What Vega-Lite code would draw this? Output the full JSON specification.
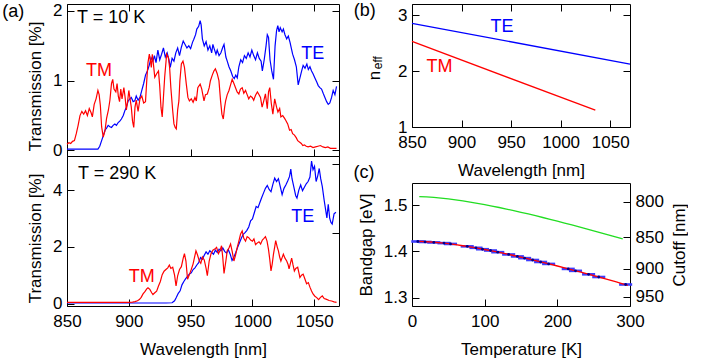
{
"$schema":"https://vega.github.io/schema/vega-lite/v6.json",
"padding":{"left":1,"top":1,"right":0,"bottom":0},
"config":{
 "font":"Liberation Sans",
 "view":{"stroke":"#000000","strokeWidth":1},
 "axis":{"domain":false,"grid":false,"tickColor":"#000000","tickSize":-7,"tickWidth":1,"labelColor":"#000000","titleColor":"#000000","labelFont":"Liberation Sans","titleFont":"Liberation Sans","labelFontSize":17,"titleFontSize":17,"titleFontWeight":"normal","labelFlush":false,"labelOverlap":false,"labelPadding":12,"titlePadding":8},
 "axisX":{"labelPadding":14,"titlePadding":12},
 "axisY":{"labelPadding":12,"titlePadding":8},
 "text":{"font":"Liberation Sans"}
},
"datasets":{
"top":[
{"w":850,"t":0.02,"p":"TE"},{"w":855,"t":0.02,"p":"TE"},{"w":860,"t":0.02,"p":"TE"},{"w":865,"t":0.02,"p":"TE"},{"w":870,"t":0.02,"p":"TE"},{"w":875,"t":0.02,"p":"TE"},{"w":876.5,"t":0.06,"p":"TE"},{"w":878,"t":0.14,"p":"TE"},{"w":879.5,"t":0.22,"p":"TE"},{"w":880.7,"t":0.29,"p":"TE"},{"w":882,"t":0.32,"p":"TE"},{"w":883.3,"t":0.36,"p":"TE"},{"w":884.7,"t":0.34,"p":"TE"},{"w":886,"t":0.33,"p":"TE"},{"w":887.3,"t":0.36,"p":"TE"},{"w":888.7,"t":0.38,"p":"TE"},{"w":890,"t":0.36,"p":"TE"},{"w":891.4,"t":0.40,"p":"TE"},{"w":892.7,"t":0.42,"p":"TE"},{"w":894,"t":0.45,"p":"TE"},{"w":895.5,"t":0.50,"p":"TE"},{"w":896.8,"t":0.57,"p":"TE"},{"w":898,"t":0.62,"p":"TE"},{"w":899.5,"t":0.71,"p":"TE"},{"w":900.8,"t":0.74,"p":"TE"},{"w":902,"t":0.76,"p":"TE"},{"w":903.5,"t":0.70,"p":"TE"},{"w":904.8,"t":0.71,"p":"TE"},{"w":906,"t":0.78,"p":"TE"},{"w":907.5,"t":0.72,"p":"TE"},{"w":909,"t":0.76,"p":"TE"},{"w":910.5,"t":0.86,"p":"TE"},{"w":912,"t":0.96,"p":"TE"},{"w":913.5,"t":1.08,"p":"TE"},{"w":915,"t":1.14,"p":"TE"},{"w":916.5,"t":1.22,"p":"TE"},{"w":918,"t":1.33,"p":"TE"},{"w":919.5,"t":1.28,"p":"TE"},{"w":920.7,"t":1.36,"p":"TE"},{"w":922,"t":1.26,"p":"TE"},{"w":923.5,"t":1.44,"p":"TE"},{"w":925,"t":1.30,"p":"TE"},{"w":926.5,"t":1.38,"p":"TE"},{"w":928,"t":1.47,"p":"TE"},{"w":929.5,"t":1.34,"p":"TE"},{"w":931,"t":1.40,"p":"TE"},{"w":932.5,"t":1.30,"p":"TE"},{"w":933.5,"t":1.19,"p":"TE"},{"w":935,"t":1.32,"p":"TE"},{"w":936.5,"t":1.28,"p":"TE"},{"w":938,"t":1.40,"p":"TE"},{"w":939.5,"t":1.47,"p":"TE"},{"w":941,"t":1.36,"p":"TE"},{"w":942.5,"t":1.48,"p":"TE"},{"w":944,"t":1.57,"p":"TE"},{"w":945.5,"t":1.52,"p":"TE"},{"w":947,"t":1.47,"p":"TE"},{"w":948.5,"t":1.50,"p":"TE"},{"w":950,"t":1.46,"p":"TE"},{"w":951.5,"t":1.55,"p":"TE"},{"w":952.5,"t":1.59,"p":"TE"},{"w":954,"t":1.66,"p":"TE"},{"w":955,"t":1.74,"p":"TE"},{"w":956.5,"t":1.78,"p":"TE"},{"w":957.7,"t":1.86,"p":"TE"},{"w":958.5,"t":1.80,"p":"TE"},{"w":959.5,"t":1.60,"p":"TE"},{"w":961,"t":1.50,"p":"TE"},{"w":962.5,"t":1.56,"p":"TE"},{"w":964,"t":1.44,"p":"TE"},{"w":965.5,"t":1.50,"p":"TE"},{"w":967,"t":1.40,"p":"TE"},{"w":968,"t":1.52,"p":"TE"},{"w":969,"t":1.46,"p":"TE"},{"w":970.5,"t":1.38,"p":"TE"},{"w":971.5,"t":1.44,"p":"TE"},{"w":973,"t":1.36,"p":"TE"},{"w":974.5,"t":1.40,"p":"TE"},{"w":976,"t":1.48,"p":"TE"},{"w":977,"t":1.52,"p":"TE"},{"w":978.5,"t":1.34,"p":"TE"},{"w":979.6,"t":1.28,"p":"TE"},{"w":981,"t":1.20,"p":"TE"},{"w":982.5,"t":1.14,"p":"TE"},{"w":984,"t":1.06,"p":"TE"},{"w":985.3,"t":1.03,"p":"TE"},{"w":986.5,"t":1.08,"p":"TE"},{"w":987.7,"t":1.04,"p":"TE"},{"w":989,"t":1.20,"p":"TE"},{"w":990.5,"t":1.30,"p":"TE"},{"w":992,"t":1.26,"p":"TE"},{"w":993.5,"t":1.36,"p":"TE"},{"w":995,"t":1.32,"p":"TE"},{"w":996.5,"t":1.40,"p":"TE"},{"w":998,"t":1.34,"p":"TE"},{"w":999.5,"t":1.44,"p":"TE"},{"w":1001,"t":1.36,"p":"TE"},{"w":1002.5,"t":1.30,"p":"TE"},{"w":1004,"t":1.40,"p":"TE"},{"w":1005.5,"t":1.32,"p":"TE"},{"w":1007,"t":1.28,"p":"TE"},{"w":1008,"t":1.14,"p":"TE"},{"w":1009.5,"t":1.30,"p":"TE"},{"w":1011,"t":1.50,"p":"TE"},{"w":1012,"t":1.66,"p":"TE"},{"w":1013,"t":1.62,"p":"TE"},{"w":1014.2,"t":1.30,"p":"TE"},{"w":1015.6,"t":1.14,"p":"TE"},{"w":1017,"t":1.02,"p":"TE"},{"w":1018.3,"t":1.50,"p":"TE"},{"w":1019.5,"t":1.72,"p":"TE"},{"w":1020.5,"t":1.79,"p":"TE"},{"w":1021.5,"t":1.70,"p":"TE"},{"w":1022.5,"t":1.76,"p":"TE"},{"w":1024,"t":1.70,"p":"TE"},{"w":1025,"t":1.74,"p":"TE"},{"w":1026.3,"t":1.66,"p":"TE"},{"w":1027.7,"t":1.60,"p":"TE"},{"w":1029,"t":1.64,"p":"TE"},{"w":1030.4,"t":1.55,"p":"TE"},{"w":1031.5,"t":1.46,"p":"TE"},{"w":1032.5,"t":1.38,"p":"TE"},{"w":1034,"t":1.30,"p":"TE"},{"w":1035.5,"t":1.20,"p":"TE"},{"w":1037,"t":0.94,"p":"TE"},{"w":1038.4,"t":1.04,"p":"TE"},{"w":1039.8,"t":1.14,"p":"TE"},{"w":1041,"t":1.22,"p":"TE"},{"w":1042.5,"t":1.18,"p":"TE"},{"w":1044,"t":1.24,"p":"TE"},{"w":1045.2,"t":1.16,"p":"TE"},{"w":1046.5,"t":1.20,"p":"TE"},{"w":1047.8,"t":1.14,"p":"TE"},{"w":1049,"t":1.10,"p":"TE"},{"w":1050.5,"t":1.04,"p":"TE"},{"w":1052,"t":0.98,"p":"TE"},{"w":1053.2,"t":0.93,"p":"TE"},{"w":1054.5,"t":0.90,"p":"TE"},{"w":1055.9,"t":0.88,"p":"TE"},{"w":1057.2,"t":0.82,"p":"TE"},{"w":1058.6,"t":0.76,"p":"TE"},{"w":1060,"t":0.70,"p":"TE"},{"w":1061.3,"t":0.66,"p":"TE"},{"w":1062.6,"t":0.68,"p":"TE"},{"w":1064,"t":0.76,"p":"TE"},{"w":1065.3,"t":0.86,"p":"TE"},{"w":1066.7,"t":0.80,"p":"TE"},{"w":1068,"t":0.92,"p":"TE"},
{"w":850,"t":0.09,"p":"TM"},{"w":851.5,"t":0.11,"p":"TM"},{"w":853,"t":0.10,"p":"TM"},{"w":854.5,"t":0.13,"p":"TM"},{"w":856,"t":0.14,"p":"TM"},{"w":857.5,"t":0.24,"p":"TM"},{"w":859,"t":0.36,"p":"TM"},{"w":860.5,"t":0.50,"p":"TM"},{"w":862,"t":0.56,"p":"TM"},{"w":863.5,"t":0.52,"p":"TM"},{"w":865,"t":0.57,"p":"TM"},{"w":866.5,"t":0.50,"p":"TM"},{"w":868,"t":0.60,"p":"TM"},{"w":869.5,"t":0.54,"p":"TM"},{"w":870.5,"t":0.48,"p":"TM"},{"w":872,"t":0.66,"p":"TM"},{"w":873.5,"t":0.74,"p":"TM"},{"w":875,"t":0.86,"p":"TM"},{"w":876,"t":0.80,"p":"TM"},{"w":877,"t":0.64,"p":"TM"},{"w":878,"t":0.34,"p":"TM"},{"w":879.3,"t":0.19,"p":"TM"},{"w":880.7,"t":0.28,"p":"TM"},{"w":882,"t":0.46,"p":"TM"},{"w":883.5,"t":0.58,"p":"TM"},{"w":884.7,"t":0.72,"p":"TM"},{"w":886,"t":0.96,"p":"TM"},{"w":887,"t":1.02,"p":"TM"},{"w":888,"t":0.88,"p":"TM"},{"w":889.5,"t":0.84,"p":"TM"},{"w":890.5,"t":0.96,"p":"TM"},{"w":891.5,"t":0.78,"p":"TM"},{"w":892.5,"t":0.70,"p":"TM"},{"w":893.5,"t":0.88,"p":"TM"},{"w":894.5,"t":0.74,"p":"TM"},{"w":896,"t":0.90,"p":"TM"},{"w":897,"t":0.76,"p":"TM"},{"w":898,"t":0.58,"p":"TM"},{"w":899,"t":0.70,"p":"TM"},{"w":900,"t":0.86,"p":"TM"},{"w":901,"t":0.74,"p":"TM"},{"w":902,"t":0.62,"p":"TM"},{"w":903,"t":0.42,"p":"TM"},{"w":904,"t":0.33,"p":"TM"},{"w":905,"t":0.62,"p":"TM"},{"w":906,"t":0.72,"p":"TM"},{"w":907.5,"t":0.56,"p":"TM"},{"w":909,"t":0.74,"p":"TM"},{"w":910.5,"t":0.78,"p":"TM"},{"w":912,"t":0.68,"p":"TM"},{"w":913.5,"t":0.70,"p":"TM"},{"w":914.5,"t":1.00,"p":"TM"},{"w":915.5,"t":1.26,"p":"TM"},{"w":916.6,"t":1.38,"p":"TM"},{"w":917.5,"t":1.28,"p":"TM"},{"w":918.2,"t":1.19,"p":"TM"},{"w":919,"t":1.38,"p":"TM"},{"w":920,"t":1.22,"p":"TM"},{"w":921,"t":1.05,"p":"TM"},{"w":922.5,"t":1.10,"p":"TM"},{"w":924,"t":1.14,"p":"TM"},{"w":925,"t":0.92,"p":"TM"},{"w":926,"t":0.62,"p":"TM"},{"w":927,"t":0.48,"p":"TM"},{"w":928,"t":0.76,"p":"TM"},{"w":929,"t":1.05,"p":"TM"},{"w":930.6,"t":1.38,"p":"TM"},{"w":932,"t":1.33,"p":"TM"},{"w":933,"t":1.19,"p":"TM"},{"w":934,"t":0.90,"p":"TM"},{"w":935.5,"t":0.57,"p":"TM"},{"w":936.5,"t":0.38,"p":"TM"},{"w":937.5,"t":0.33,"p":"TM"},{"w":938.4,"t":0.31,"p":"TM"},{"w":939.5,"t":0.58,"p":"TM"},{"w":940.5,"t":0.71,"p":"TM"},{"w":941.3,"t":1.00,"p":"TM"},{"w":942.5,"t":1.24,"p":"TM"},{"w":943.8,"t":1.28,"p":"TM"},{"w":945,"t":1.19,"p":"TM"},{"w":946.5,"t":0.95,"p":"TM"},{"w":947.8,"t":0.76,"p":"TM"},{"w":949,"t":0.71,"p":"TM"},{"w":950.5,"t":0.74,"p":"TM"},{"w":952,"t":0.69,"p":"TM"},{"w":953.5,"t":0.76,"p":"TM"},{"w":954.6,"t":0.71,"p":"TM"},{"w":955.8,"t":0.90,"p":"TM"},{"w":957.7,"t":0.95,"p":"TM"},{"w":959,"t":0.88,"p":"TM"},{"w":960.8,"t":0.71,"p":"TM"},{"w":962,"t":0.80,"p":"TM"},{"w":963.5,"t":0.81,"p":"TM"},{"w":965,"t":0.90,"p":"TM"},{"w":966,"t":1.00,"p":"TM"},{"w":967.5,"t":1.08,"p":"TM"},{"w":968.8,"t":1.14,"p":"TM"},{"w":970,"t":1.17,"p":"TM"},{"w":971.5,"t":1.10,"p":"TM"},{"w":972.9,"t":1.00,"p":"TM"},{"w":974.2,"t":0.71,"p":"TM"},{"w":975.3,"t":0.52,"p":"TM"},{"w":976.4,"t":0.45,"p":"TM"},{"w":977.5,"t":0.62,"p":"TM"},{"w":978.3,"t":0.71,"p":"TM"},{"w":979.6,"t":0.80,"p":"TM"},{"w":981,"t":0.86,"p":"TM"},{"w":982.3,"t":0.94,"p":"TM"},{"w":983.6,"t":1.02,"p":"TM"},{"w":985,"t":0.96,"p":"TM"},{"w":986.3,"t":0.90,"p":"TM"},{"w":987.6,"t":0.84,"p":"TM"},{"w":989,"t":0.81,"p":"TM"},{"w":990.3,"t":0.88,"p":"TM"},{"w":991.7,"t":0.90,"p":"TM"},{"w":993,"t":0.82,"p":"TM"},{"w":994.4,"t":0.86,"p":"TM"},{"w":995.7,"t":0.80,"p":"TM"},{"w":997,"t":0.74,"p":"TM"},{"w":998.4,"t":0.78,"p":"TM"},{"w":999.8,"t":0.76,"p":"TM"},{"w":1001,"t":0.72,"p":"TM"},{"w":1002.5,"t":0.79,"p":"TM"},{"w":1004,"t":0.84,"p":"TM"},{"w":1005,"t":0.81,"p":"TM"},{"w":1006.5,"t":0.76,"p":"TM"},{"w":1007.8,"t":0.62,"p":"TM"},{"w":1009,"t":0.70,"p":"TM"},{"w":1010.5,"t":0.81,"p":"TM"},{"w":1012,"t":0.60,"p":"TM"},{"w":1013,"t":0.84,"p":"TM"},{"w":1014,"t":0.90,"p":"TM"},{"w":1015.2,"t":0.68,"p":"TM"},{"w":1016.5,"t":0.52,"p":"TM"},{"w":1018,"t":0.74,"p":"TM"},{"w":1019.5,"t":0.62,"p":"TM"},{"w":1020.6,"t":0.55,"p":"TM"},{"w":1022,"t":0.60,"p":"TM"},{"w":1023,"t":0.48,"p":"TM"},{"w":1024.5,"t":0.50,"p":"TM"},{"w":1026,"t":0.46,"p":"TM"},{"w":1027,"t":0.43,"p":"TM"},{"w":1028.5,"t":0.38,"p":"TM"},{"w":1030,"t":0.29,"p":"TM"},{"w":1031.3,"t":0.30,"p":"TM"},{"w":1032.5,"t":0.24,"p":"TM"},{"w":1034,"t":0.22,"p":"TM"},{"w":1035.5,"t":0.18,"p":"TM"},{"w":1036.6,"t":0.14,"p":"TM"},{"w":1038,"t":0.12,"p":"TM"},{"w":1039.5,"t":0.10,"p":"TM"},{"w":1040.7,"t":0.07,"p":"TM"},{"w":1042,"t":0.08,"p":"TM"},{"w":1043.5,"t":0.06,"p":"TM"},{"w":1045,"t":0.05,"p":"TM"},{"w":1047,"t":0.06,"p":"TM"},{"w":1049,"t":0.04,"p":"TM"},{"w":1051,"t":0.05,"p":"TM"},{"w":1053,"t":0.06,"p":"TM"},{"w":1055,"t":0.07,"p":"TM"},{"w":1057,"t":0.05,"p":"TM"},{"w":1059,"t":0.04,"p":"TM"},{"w":1061,"t":0.05,"p":"TM"},{"w":1063,"t":0.03,"p":"TM"},{"w":1065,"t":0.03,"p":"TM"},{"w":1068,"t":0.03,"p":"TM"}
],
"bot":[
{"w":850,"t":0.02,"p":"TE"},{"w":870,"t":0.02,"p":"TE"},{"w":890,"t":0.02,"p":"TE"},{"w":910,"t":0.02,"p":"TE"},{"w":930,"t":0.02,"p":"TE"},{"w":935,"t":0.03,"p":"TE"},{"w":937,"t":0.10,"p":"TE"},{"w":938.5,"t":0.22,"p":"TE"},{"w":940,"t":0.36,"p":"TE"},{"w":941.5,"t":0.45,"p":"TE"},{"w":943,"t":0.66,"p":"TE"},{"w":944.5,"t":0.78,"p":"TE"},{"w":946,"t":0.88,"p":"TE"},{"w":947.5,"t":0.96,"p":"TE"},{"w":949,"t":1.04,"p":"TE"},{"w":950.5,"t":1.08,"p":"TE"},{"w":952,"t":1.20,"p":"TE"},{"w":953.5,"t":1.26,"p":"TE"},{"w":955,"t":1.36,"p":"TE"},{"w":956.5,"t":1.44,"p":"TE"},{"w":958,"t":1.62,"p":"TE"},{"w":959.5,"t":1.56,"p":"TE"},{"w":961,"t":1.70,"p":"TE"},{"w":962.5,"t":1.82,"p":"TE"},{"w":964,"t":1.74,"p":"TE"},{"w":965.5,"t":1.86,"p":"TE"},{"w":967,"t":1.80,"p":"TE"},{"w":968.5,"t":1.74,"p":"TE"},{"w":970,"t":1.88,"p":"TE"},{"w":971.5,"t":1.80,"p":"TE"},{"w":973,"t":1.92,"p":"TE"},{"w":974.5,"t":1.86,"p":"TE"},{"w":976,"t":1.96,"p":"TE"},{"w":977.5,"t":1.84,"p":"TE"},{"w":979,"t":1.78,"p":"TE"},{"w":980.5,"t":1.90,"p":"TE"},{"w":982,"t":1.74,"p":"TE"},{"w":983.5,"t":1.52,"p":"TE"},{"w":985,"t":1.64,"p":"TE"},{"w":986.5,"t":1.80,"p":"TE"},{"w":988,"t":1.98,"p":"TE"},{"w":989.5,"t":2.14,"p":"TE"},{"w":991,"t":2.30,"p":"TE"},{"w":992.5,"t":2.44,"p":"TE"},{"w":994,"t":2.50,"p":"TE"},{"w":995.5,"t":2.58,"p":"TE"},{"w":997,"t":2.70,"p":"TE"},{"w":998.5,"t":2.92,"p":"TE"},{"w":1000,"t":2.98,"p":"TE"},{"w":1001.5,"t":3.20,"p":"TE"},{"w":1003,"t":3.42,"p":"TE"},{"w":1004.5,"t":3.38,"p":"TE"},{"w":1006,"t":3.56,"p":"TE"},{"w":1007.5,"t":3.74,"p":"TE"},{"w":1009,"t":3.90,"p":"TE"},{"w":1010.5,"t":4.06,"p":"TE"},{"w":1012,"t":4.16,"p":"TE"},{"w":1013.5,"t":4.02,"p":"TE"},{"w":1015,"t":3.94,"p":"TE"},{"w":1016.5,"t":4.20,"p":"TE"},{"w":1018,"t":4.42,"p":"TE"},{"w":1019.5,"t":4.30,"p":"TE"},{"w":1021,"t":4.40,"p":"TE"},{"w":1022.5,"t":4.12,"p":"TE"},{"w":1024,"t":3.84,"p":"TE"},{"w":1025.5,"t":4.06,"p":"TE"},{"w":1027,"t":4.18,"p":"TE"},{"w":1028.5,"t":4.32,"p":"TE"},{"w":1030,"t":4.48,"p":"TE"},{"w":1031,"t":4.74,"p":"TE"},{"w":1032,"t":4.40,"p":"TE"},{"w":1033.5,"t":4.10,"p":"TE"},{"w":1035,"t":3.80,"p":"TE"},{"w":1036,"t":3.72,"p":"TE"},{"w":1037.5,"t":4.00,"p":"TE"},{"w":1039,"t":4.18,"p":"TE"},{"w":1040.5,"t":3.98,"p":"TE"},{"w":1042,"t":4.10,"p":"TE"},{"w":1043.5,"t":4.22,"p":"TE"},{"w":1045,"t":4.30,"p":"TE"},{"w":1046.5,"t":4.46,"p":"TE"},{"w":1047.8,"t":5.02,"p":"TE"},{"w":1049,"t":4.72,"p":"TE"},{"w":1050.2,"t":4.84,"p":"TE"},{"w":1051.5,"t":4.30,"p":"TE"},{"w":1052.8,"t":4.50,"p":"TE"},{"w":1054,"t":4.76,"p":"TE"},{"w":1055.2,"t":4.40,"p":"TE"},{"w":1056.5,"t":4.12,"p":"TE"},{"w":1058,"t":3.64,"p":"TE"},{"w":1059.2,"t":3.30,"p":"TE"},{"w":1060.2,"t":3.02,"p":"TE"},{"w":1061.3,"t":3.50,"p":"TE"},{"w":1062.5,"t":3.00,"p":"TE"},{"w":1063.5,"t":2.86,"p":"TE"},{"w":1064.5,"t":2.80,"p":"TE"},{"w":1066,"t":3.16,"p":"TE"},{"w":1067.5,"t":3.22,"p":"TE"},
{"w":850,"t":0.04,"p":"TM"},{"w":870,"t":0.04,"p":"TM"},{"w":890,"t":0.04,"p":"TM"},{"w":900,"t":0.04,"p":"TM"},{"w":903,"t":0.05,"p":"TM"},{"w":905,"t":0.07,"p":"TM"},{"w":907,"t":0.10,"p":"TM"},{"w":908.5,"t":0.14,"p":"TM"},{"w":910,"t":0.22,"p":"TM"},{"w":911.5,"t":0.34,"p":"TM"},{"w":913,"t":0.42,"p":"TM"},{"w":914.5,"t":0.52,"p":"TM"},{"w":915.5,"t":0.56,"p":"TM"},{"w":917,"t":0.50,"p":"TM"},{"w":918.5,"t":0.38,"p":"TM"},{"w":919.5,"t":0.32,"p":"TM"},{"w":921,"t":0.38,"p":"TM"},{"w":922.5,"t":0.44,"p":"TM"},{"w":924,"t":0.62,"p":"TM"},{"w":925.5,"t":0.78,"p":"TM"},{"w":927,"t":1.02,"p":"TM"},{"w":928.5,"t":1.14,"p":"TM"},{"w":930,"t":1.20,"p":"TM"},{"w":931.5,"t":1.26,"p":"TM"},{"w":932.8,"t":1.36,"p":"TM"},{"w":934,"t":1.24,"p":"TM"},{"w":935.5,"t":1.28,"p":"TM"},{"w":937,"t":1.00,"p":"TM"},{"w":938.2,"t":0.62,"p":"TM"},{"w":939.5,"t":0.98,"p":"TM"},{"w":941,"t":1.20,"p":"TM"},{"w":942.5,"t":1.30,"p":"TM"},{"w":944,"t":1.60,"p":"TM"},{"w":945,"t":1.76,"p":"TM"},{"w":946.2,"t":1.50,"p":"TM"},{"w":947.5,"t":0.86,"p":"TM"},{"w":949,"t":1.02,"p":"TM"},{"w":950.5,"t":1.20,"p":"TM"},{"w":952,"t":1.40,"p":"TM"},{"w":953,"t":1.60,"p":"TM"},{"w":954.3,"t":1.86,"p":"TM"},{"w":955.5,"t":1.72,"p":"TM"},{"w":957,"t":1.50,"p":"TM"},{"w":958.2,"t":1.42,"p":"TM"},{"w":959.5,"t":1.64,"p":"TM"},{"w":961,"t":1.54,"p":"TM"},{"w":962.5,"t":1.24,"p":"TM"},{"w":963.5,"t":0.98,"p":"TM"},{"w":965,"t":1.50,"p":"TM"},{"w":966.5,"t":1.76,"p":"TM"},{"w":968,"t":1.88,"p":"TM"},{"w":969.5,"t":1.92,"p":"TM"},{"w":971,"t":1.98,"p":"TM"},{"w":972.5,"t":1.76,"p":"TM"},{"w":973.5,"t":1.84,"p":"TM"},{"w":975,"t":2.04,"p":"TM"},{"w":976,"t":1.62,"p":"TM"},{"w":977,"t":1.06,"p":"TM"},{"w":978.5,"t":1.50,"p":"TM"},{"w":979.6,"t":1.86,"p":"TM"},{"w":981,"t":1.96,"p":"TM"},{"w":982.3,"t":2.10,"p":"TM"},{"w":983.6,"t":1.84,"p":"TM"},{"w":985,"t":1.50,"p":"TM"},{"w":986.4,"t":1.72,"p":"TM"},{"w":987.7,"t":1.98,"p":"TM"},{"w":989,"t":2.20,"p":"TM"},{"w":990.4,"t":2.45,"p":"TM"},{"w":991.7,"t":2.56,"p":"TM"},{"w":993,"t":2.30,"p":"TM"},{"w":994.4,"t":2.20,"p":"TM"},{"w":995.7,"t":2.36,"p":"TM"},{"w":997,"t":2.32,"p":"TM"},{"w":998.5,"t":2.24,"p":"TM"},{"w":1000,"t":2.20,"p":"TM"},{"w":1001.2,"t":2.28,"p":"TM"},{"w":1002.5,"t":2.08,"p":"TM"},{"w":1004,"t":2.14,"p":"TM"},{"w":1005.3,"t":2.18,"p":"TM"},{"w":1006.6,"t":2.10,"p":"TM"},{"w":1008,"t":2.24,"p":"TM"},{"w":1009.3,"t":2.30,"p":"TM"},{"w":1010.5,"t":2.36,"p":"TM"},{"w":1011.8,"t":2.20,"p":"TM"},{"w":1013,"t":1.90,"p":"TM"},{"w":1014,"t":1.56,"p":"TM"},{"w":1015,"t":1.15,"p":"TM"},{"w":1016,"t":1.40,"p":"TM"},{"w":1017,"t":1.74,"p":"TM"},{"w":1018,"t":2.00,"p":"TM"},{"w":1018.8,"t":2.22,"p":"TM"},{"w":1020,"t":2.00,"p":"TM"},{"w":1021,"t":1.86,"p":"TM"},{"w":1022,"t":1.64,"p":"TM"},{"w":1023,"t":1.50,"p":"TM"},{"w":1024,"t":1.62,"p":"TM"},{"w":1025,"t":1.74,"p":"TM"},{"w":1026.3,"t":1.60,"p":"TM"},{"w":1027.7,"t":1.50,"p":"TM"},{"w":1028.8,"t":1.38,"p":"TM"},{"w":1029.6,"t":1.22,"p":"TM"},{"w":1030.6,"t":1.40,"p":"TM"},{"w":1031.7,"t":1.60,"p":"TM"},{"w":1032.8,"t":1.36,"p":"TM"},{"w":1033.9,"t":1.15,"p":"TM"},{"w":1035,"t":1.24,"p":"TM"},{"w":1036.6,"t":1.28,"p":"TM"},{"w":1037.5,"t":1.10,"p":"TM"},{"w":1038.4,"t":0.92,"p":"TM"},{"w":1039.7,"t":1.00,"p":"TM"},{"w":1041,"t":1.04,"p":"TM"},{"w":1042.5,"t":0.86,"p":"TM"},{"w":1043.8,"t":0.70,"p":"TM"},{"w":1045.2,"t":0.74,"p":"TM"},{"w":1046.5,"t":0.58,"p":"TM"},{"w":1047.8,"t":0.44,"p":"TM"},{"w":1049,"t":0.34,"p":"TM"},{"w":1050.5,"t":0.26,"p":"TM"},{"w":1052,"t":0.21,"p":"TM"},{"w":1053.5,"t":0.14,"p":"TM"},{"w":1055,"t":0.22,"p":"TM"},{"w":1056.5,"t":0.27,"p":"TM"},{"w":1058,"t":0.18,"p":"TM"},{"w":1060,"t":0.15,"p":"TM"},{"w":1062,"t":0.11,"p":"TM"},{"w":1064,"t":0.09,"p":"TM"},{"w":1066,"t":0.06,"p":"TM"},{"w":1068,"t":0.04,"p":"TM"}
],
"neff":[{"w":850,"n":2.855,"p":"TE"},{"w":1070,"n":2.126,"p":"TE"},{"w":850,"n":2.53,"p":"TM"},{"w":1035,"n":1.30,"p":"TM"}],
"meas":[{"T":8,"E":1.4215,"lo":-1,"hi":17},{"T":18,"E":1.4205,"lo":9,"hi":27},{"T":30,"E":1.4195,"lo":21,"hi":39},{"T":44,"E":1.418,"lo":35,"hi":53},{"T":53,"E":1.4162,"lo":44,"hi":62},{"T":76,"E":1.411,"lo":67,"hi":85},{"T":88,"E":1.4078,"lo":79,"hi":97},{"T":97,"E":1.4048,"lo":88,"hi":106},{"T":108,"E":1.402,"lo":99,"hi":117},{"T":118,"E":1.3984,"lo":109,"hi":127},{"T":133,"E":1.3935,"lo":124,"hi":142},{"T":145,"E":1.3892,"lo":136,"hi":154},{"T":155,"E":1.3855,"lo":146,"hi":164},{"T":166,"E":1.3815,"lo":157,"hi":175},{"T":177,"E":1.3772,"lo":168,"hi":186},{"T":188,"E":1.373,"lo":179,"hi":197},{"T":215,"E":1.3622,"lo":206,"hi":224},{"T":225,"E":1.358,"lo":216,"hi":234},{"T":243,"E":1.3505,"lo":234,"hi":252},{"T":257,"E":1.3447,"lo":248,"hi":266},{"T":294,"E":1.3285,"lo":285,"hi":303}],
"fit":[{"T":10,"E":1.4217},{"T":20,"E":1.421},{"T":30,"E":1.4199},{"T":40,"E":1.4185},{"T":50,"E":1.4167},{"T":60,"E":1.4146},{"T":70,"E":1.4123},{"T":80,"E":1.4098},{"T":90,"E":1.4071},{"T":100,"E":1.4042},{"T":110,"E":1.4012},{"T":120,"E":1.398},{"T":130,"E":1.3947},{"T":140,"E":1.3912},{"T":150,"E":1.3876},{"T":160,"E":1.384},{"T":170,"E":1.3802},{"T":180,"E":1.3764},{"T":190,"E":1.3725},{"T":200,"E":1.3685},{"T":210,"E":1.3644},{"T":220,"E":1.3603},{"T":230,"E":1.3561},{"T":240,"E":1.3519},{"T":250,"E":1.3476},{"T":260,"E":1.3433},{"T":270,"E":1.3389},{"T":280,"E":1.3345},{"T":290,"E":1.33},{"T":297,"E":1.3268}],
"gaas":[{"T":10,"E":1.5187},{"T":20,"E":1.518},{"T":30,"E":1.5169},{"T":40,"E":1.5155},{"T":50,"E":1.5137},{"T":60,"E":1.5116},{"T":70,"E":1.5093},{"T":80,"E":1.5068},{"T":90,"E":1.5041},{"T":100,"E":1.5012},{"T":110,"E":1.4982},{"T":120,"E":1.495},{"T":130,"E":1.4917},{"T":140,"E":1.4882},{"T":150,"E":1.4846},{"T":160,"E":1.481},{"T":170,"E":1.4772},{"T":180,"E":1.4734},{"T":190,"E":1.4695},{"T":200,"E":1.4655},{"T":210,"E":1.4614},{"T":220,"E":1.4573},{"T":230,"E":1.4531},{"T":240,"E":1.4489},{"T":250,"E":1.4446},{"T":260,"E":1.4403},{"T":270,"E":1.4359},{"T":280,"E":1.4315},{"T":290,"E":1.427}]
},
"spacing":12,
"hconcat":[
{"vconcat":[
 {"width":272,"height":152,
  "layer":[
   {"data":{"name":"top"},"mark":{"type":"line","strokeWidth":1.2},
    "encoding":{
     "x":{"field":"w","type":"quantitative","scale":{"domain":[850,1070],"nice":false,"zero":false},"axis":{"values":[850,900,950,1000,1050],"labels":false,"title":null}},
     "y":{"field":"t","type":"quantitative","scale":{"domain":[-0.08,2.1],"nice":false,"zero":false},"axis":{"values":[0,1,2],"title":"Transmission [%]","titleY":82}},
     "color":{"field":"p","type":"nominal","scale":{"domain":["TE","TM"],"range":["#0000ff","#ff0000"]},"legend":null}}},
   {"data":{"values":[{"w":900,"t":1}]},"mark":{"type":"point","opacity":0},
    "encoding":{
     "x":{"field":"w","type":"quantitative","scale":{"domain":[850,1070],"nice":false,"zero":false},"axis":{"orient":"top","values":[850,900,950,1000,1050],"labels":false,"title":null}},
     "y":{"field":"t","type":"quantitative","scale":{"domain":[-0.08,2.1],"nice":false,"zero":false},"axis":{"orient":"right","values":[0,1,2],"labels":false,"title":null}}}},
   {"data":{"values":[{"w":875.8,"t":1.14,"p":"TM"},{"w":1048.8,"t":1.38,"p":"TE"}]},"mark":{"type":"text","fontSize":18,"baseline":"middle"},
    "encoding":{
     "x":{"field":"w","type":"quantitative","scale":{"domain":[850,1070],"nice":false,"zero":false},"axis":null},
     "y":{"field":"t","type":"quantitative","scale":{"domain":[-0.08,2.1],"nice":false,"zero":false},"axis":null},
     "text":{"field":"p"},
     "color":{"field":"p","type":"nominal","scale":{"domain":["TE","TM"],"range":["#0000ff","#ff0000"]},"legend":null}}},
   {"data":{"values":[{"w":797.6,"t":1.99,"s":"(a)"},{"w":858.1,"t":1.9,"s":"T = 10 K"}]},"mark":{"type":"text","fontSize":18,"align":"left","baseline":"middle","color":"#000000"},
    "encoding":{
     "x":{"field":"w","type":"quantitative","scale":{"domain":[850,1070],"nice":false,"zero":false},"axis":null},
     "y":{"field":"t","type":"quantitative","scale":{"domain":[-0.08,2.1],"nice":false,"zero":false},"axis":null},
     "text":{"field":"s"}}}
  ],
  "resolve":{"axis":{"x":"independent","y":"independent"}}
 },
 {"width":272,"height":150,
  "layer":[
   {"data":{"name":"bot"},"mark":{"type":"line","strokeWidth":1.2},
    "encoding":{
     "x":{"field":"w","type":"quantitative","scale":{"domain":[850,1070],"nice":false,"zero":false},"axis":{"values":[850,900,950,1000,1050],"format":"d","title":"Wavelength [nm]"}},
     "y":{"field":"t","type":"quantitative","scale":{"domain":[-0.085,5.2],"nice":false,"zero":false},"axis":{"values":[0,2,4],"title":"Transmission [%]","titleY":82}},
     "color":{"field":"p","type":"nominal","scale":{"domain":["TE","TM"],"range":["#0000ff","#ff0000"]},"legend":null}}},
   {"data":{"values":[{"w":900,"t":1}]},"mark":{"type":"point","opacity":0},
    "encoding":{
     "x":{"field":"w","type":"quantitative","scale":{"domain":[850,1070],"nice":false,"zero":false},"axis":null},
     "y":{"field":"t","type":"quantitative","scale":{"domain":[-0.085,5.2],"nice":false,"zero":false},"axis":{"orient":"right","values":[2.481,4.917],"labels":false,"title":null}}}},
   {"data":{"values":[{"w":1040.7,"t":3.06,"p":"TE"},{"w":910.5,"t":0.94,"p":"TM"}]},"mark":{"type":"text","fontSize":18,"baseline":"middle"},
    "encoding":{
     "x":{"field":"w","type":"quantitative","scale":{"domain":[850,1070],"nice":false,"zero":false},"axis":null},
     "y":{"field":"t","type":"quantitative","scale":{"domain":[-0.085,5.2],"nice":false,"zero":false},"axis":null},
     "text":{"field":"p"},
     "color":{"field":"p","type":"nominal","scale":{"domain":["TE","TM"],"range":["#0000ff","#ff0000"]},"legend":null}}},
   {"data":{"values":[{"w":858.9,"t":4.58,"s":"T = 290 K"}]},"mark":{"type":"text","fontSize":18,"align":"left","baseline":"middle","color":"#000000"},
    "encoding":{
     "x":{"field":"w","type":"quantitative","scale":{"domain":[850,1070],"nice":false,"zero":false},"axis":null},
     "y":{"field":"t","type":"quantitative","scale":{"domain":[-0.085,5.2],"nice":false,"zero":false},"axis":null},
     "text":{"field":"s"}}}
  ],
  "resolve":{"axis":{"x":"independent","y":"independent"}}
 }
],"spacing":0,"bounds":"flush"},
{"vconcat":[
 {"width":218,"height":123,
  "layer":[
   {"data":{"name":"neff"},"mark":{"type":"line","strokeWidth":1.3},
    "encoding":{
     "x":{"field":"w","type":"quantitative","scale":{"domain":[850,1070],"nice":false,"zero":false},"axis":{"values":[850,900,950,1000,1050],"format":"d","title":"Wavelength [nm]"}},
     "y":{"field":"n","type":"quantitative","scale":{"domain":[1,3.2],"nice":false,"zero":false},"axis":{"values":[1,2,3],"title":null}},
     "color":{"field":"p","type":"nominal","scale":{"domain":["TE","TM"],"range":["#0000ff","#ff0000"]},"legend":null}}},
   {"data":{"values":[{"w":900,"n":2}]},"mark":{"type":"point","opacity":0},
    "encoding":{
     "x":{"field":"w","type":"quantitative","scale":{"domain":[850,1070],"nice":false,"zero":false},"axis":{"orient":"top","values":[850,900,950,1000,1050],"labels":false,"title":null}},
     "y":{"field":"n","type":"quantitative","scale":{"domain":[1,3.2],"nice":false,"zero":false},"axis":{"orient":"right","values":[1,2,3],"labels":false,"title":null}}}},
   {"data":{"values":[{"w":940.8,"n":2.79,"p":"TE"},{"w":877.7,"n":2.065,"p":"TM"}]},"mark":{"type":"text","fontSize":18,"baseline":"middle"},
    "encoding":{
     "x":{"field":"w","type":"quantitative","scale":{"domain":[850,1070],"nice":false,"zero":false},"axis":null},
     "y":{"field":"n","type":"quantitative","scale":{"domain":[1,3.2],"nice":false,"zero":false},"axis":null},
     "text":{"field":"p"},
     "color":{"field":"p","type":"nominal","scale":{"domain":["TE","TM"],"range":["#0000ff","#ff0000"]},"legend":null}}},
   {"data":{"values":[{"w":791.3,"n":3.08,"s":"(b)"}]},"mark":{"type":"text","fontSize":18,"align":"left","baseline":"middle","color":"#000000"},
    "encoding":{
     "x":{"field":"w","type":"quantitative","scale":{"domain":[850,1070],"nice":false,"zero":false},"axis":null},
     "y":{"field":"n","type":"quantitative","scale":{"domain":[1,3.2],"nice":false,"zero":false},"axis":null},
     "text":{"field":"s"}}},
   {"data":{"values":[{"w":812.2,"n":1.92,"s":"n"}]},"mark":{"type":"text","fontSize":17,"angle":270,"align":"center","baseline":"middle","color":"#000000"},
    "encoding":{
     "x":{"field":"w","type":"quantitative","scale":{"domain":[850,1070],"nice":false,"zero":false},"axis":null},
     "y":{"field":"n","type":"quantitative","scale":{"domain":[1,3.2],"nice":false,"zero":false},"axis":null},
     "text":{"field":"s"}}},
   {"data":{"values":[{"w":815.5,"n":2.15,"s":"eff"}]},"mark":{"type":"text","fontSize":12,"angle":270,"align":"center","baseline":"middle","color":"#000000"},
    "encoding":{
     "x":{"field":"w","type":"quantitative","scale":{"domain":[850,1070],"nice":false,"zero":false},"axis":null},
     "y":{"field":"n","type":"quantitative","scale":{"domain":[1,3.2],"nice":false,"zero":false},"axis":null},
     "text":{"field":"s"}}}
  ],
  "resolve":{"axis":{"x":"independent","y":"independent"}}
 },
 {"width":218,"height":123,
  "layer":[
   {"layer":[
     {"data":{"name":"meas"},"mark":{"type":"rule","strokeWidth":2.6,"color":"#3c3cff"},
      "encoding":{
       "x":{"field":"lo","type":"quantitative","scale":{"domain":[0,300],"nice":false,"zero":false},"axis":{"values":[0,100,200,300],"title":"Temperature [K]"}},
       "x2":{"field":"hi"},
       "y":{"field":"E","type":"quantitative","scale":{"domain":[1.282,1.548],"nice":false,"zero":false},"axis":{"values":[1.3,1.4,1.5],"title":"Bandgap [eV]"}}}},
     {"data":{"name":"fit"},"mark":{"type":"line","color":"#ff0000","strokeWidth":1.3},
      "encoding":{
       "x":{"field":"T","type":"quantitative","scale":{"domain":[0,300],"nice":false,"zero":false},"axis":{"values":[0,100,200,300],"title":"Temperature [K]"}},
       "y":{"field":"E","type":"quantitative","scale":{"domain":[1.282,1.548],"nice":false,"zero":false},"axis":{"values":[1.3,1.4,1.5],"title":"Bandgap [eV]"}}}},
     {"data":{"name":"meas"},"mark":{"type":"point","filled":true,"size":8,"color":"#00008b","opacity":1},
      "encoding":{
       "x":{"field":"T","type":"quantitative","scale":{"domain":[0,300],"nice":false,"zero":false},"axis":{"values":[0,100,200,300],"title":"Temperature [K]"}},
       "y":{"field":"E","type":"quantitative","scale":{"domain":[1.282,1.548],"nice":false,"zero":false},"axis":{"values":[1.3,1.4,1.5],"title":"Bandgap [eV]"}}}},
     {"data":{"name":"gaas"},"mark":{"type":"line","color":"#22dd22","strokeWidth":1.3},
      "encoding":{
       "x":{"field":"T","type":"quantitative","scale":{"domain":[0,300],"nice":false,"zero":false},"axis":{"values":[0,100,200,300],"title":"Temperature [K]"}},
       "y":{"field":"E","type":"quantitative","scale":{"domain":[1.282,1.548],"nice":false,"zero":false},"axis":{"values":[1.3,1.4,1.5],"title":"Bandgap [eV]"}}}},
     {"data":{"values":[{"T":-80.6,"E":1.57,"s":"(c)"}]},"mark":{"type":"text","fontSize":18,"align":"left","baseline":"middle","color":"#000000"},
      "encoding":{
       "x":{"field":"T","type":"quantitative","scale":{"domain":[0,300],"nice":false,"zero":false},"axis":{"values":[0,100,200,300],"title":"Temperature [K]"}},
       "y":{"field":"E","type":"quantitative","scale":{"domain":[1.282,1.548],"nice":false,"zero":false},"axis":{"values":[1.3,1.4,1.5],"title":"Bandgap [eV]"}},
       "text":{"field":"s"}}}
   ]},
   {"data":{"values":[{"c":800},{"c":950}]},"mark":{"type":"point","opacity":0},
    "encoding":{
     "y":{"field":"c","type":"quantitative","scale":{"type":"pow","exponent":-1,"domain":[775.5,967.8],"reverse":true,"nice":false,"zero":false},"axis":{"orient":"right","values":[800,850,900,950],"title":"Cutoff [nm]","titleAngle":270,"titleBaseline":"top"}}}}
  ],
  "resolve":{"scale":{"y":"independent"},"axis":{"y":"independent"}}
 }
],"spacing":56,"bounds":"flush"}
]
}
